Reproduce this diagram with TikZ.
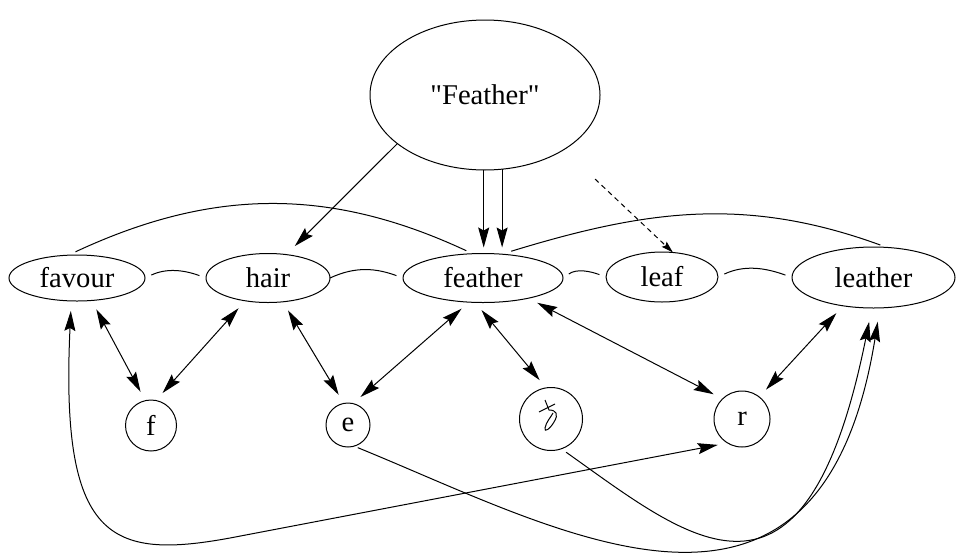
\documentclass[tikz,border=0pt]{standalone}
\usepackage{fontspec}
\setmainfont{Liberation Serif}
\usetikzlibrary{shapes.geometric,arrows.meta}

\begin{document}
\begin{tikzpicture}[x=0.5pt,y=-0.5pt,line width=0.5pt,
    font=\fontsize{14.3}{17}\selectfont,
    word/.style={ellipse,draw,inner sep=0pt,outer sep=0pt},
    letter/.style={circle,draw,inner sep=0pt,outer sep=0pt},
    arr/.style={-{Stealth[length=10pt,width=5.5pt,inset=1.5pt]}},
    both/.style={{Stealth[length=10pt,width=5.5pt,inset=1.5pt]}-{Stealth[length=10pt,width=5.5pt,inset=1.5pt]},shorten <=5pt,shorten >=5pt},
    tie/.style={shorten <=3.5pt,shorten >=3.5pt}]
    \useasboundingbox (0,0) rectangle (956,557);
    % words
    \node[word,minimum width=115pt,minimum height=75pt] (Feather) at (485,95) {\textquotedbl Feather\textquotedbl};
    \node[word,minimum width=68pt,minimum height=23pt] (favour) at (77,278) {favour};
    \node[word,minimum width=62pt,minimum height=24.5pt] (hair) at (268,278) {hair};
    \node[word,minimum width=80pt,minimum height=24.5pt] (feather) at (483,278) {feather};
    \node[word,minimum width=56pt,minimum height=25pt] (leaf) at (662,277) {leaf};
    \node[word,minimum width=81.5pt,minimum height=30.5pt] (leather) at (873.5,277.5) {leather};
    % letters
    \node[letter,minimum size=25.5pt] (f) at (151,425.5) {f};
    \node[letter,minimum size=22pt] (e) at (348,425) {e};
    \node[letter,minimum size=31.5pt] (glyph) at (551,419) {};
    \node[letter,minimum size=28pt] (r) at (742,419) {r};
    \begin{scope}[shift={(glyph.center)}]
        \draw (-12,-7) -- (4,-15);
        \draw (-6,-19) -- (-2,-9) .. controls (5,-9) and (8,-5) .. (3,3)
            .. controls (-1,10) and (-7,14) .. (-6,9) .. controls (-5,3) and (0,-2) .. (2,-6);
    \end{scope}

    % from the whole word
    \draw[arr,shorten >=6pt] (Feather.209.5) -- (hair.52);
    \draw[arr,shorten >=3pt] (Feather.-91) -- (Feather.-91 |- feather.north);
    \draw[arr,shorten >=3pt] (Feather.-77) -- (Feather.-77 |- feather.north);
    \coordinate (cue) at (595,179);
    \draw[-{Stealth[length=6pt,width=3.5pt,inset=1pt]},dash pattern=on 2.5pt off 2pt] (cue) -- (leaf.66);

    % ties between words
    \draw[tie] (favour.east) to[out=25,in=160] (hair.west);
    \draw[tie,shorten <=0pt] (hair.east) to[out=25,in=160] (feather.west);
    \draw[tie] (feather.east) to[out=35,in=160] (leaf.west);
    \draw[tie] (leaf.east) to[out=25,in=160] (leather.west);
    \draw[tie,shorten <=4pt] (favour.111) to[out=25,in=155] (feather.113);
    \draw[tie,shorten <=5pt] (feather.52) to[out=17,in=160] (leather.66);

    % letters and words
    \draw[both] (favour.-57) -- (f.103);
    \draw[both] (hair.-135) -- (f.79);
    \draw[both] (hair.-58) -- (e.101);
    \draw[both] (feather.-120) -- (e.77);
    \draw[both] (feather.-108) -- (glyph.99);
    \draw[both] (feather.-24) -- (r.134);
    \draw[both] (leather.-137) -- (r.52);
    \coordinate (turn) at (230,538);
    \draw[both] (favour.-104) .. controls (60,540) and (110,560) .. (turn) -- (r.-121.5);
    \draw[arr,shorten <=3pt,shorten >=7pt] (glyph.-71.5) .. controls (690,540) and (805,640) .. (leather.-93);
    \draw[arr,shorten <=2pt,shorten >=7pt] (e.-74) .. controls (560,530) and (820,680) .. (leather.-78);
\end{tikzpicture}
\end{document}
